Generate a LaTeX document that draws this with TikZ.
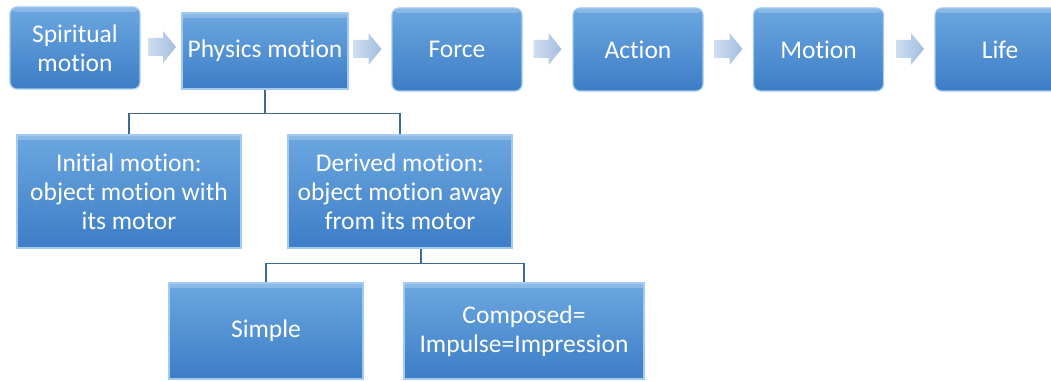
\documentclass[tikz,border=0pt]{standalone}
\usepackage{fontspec}
\setmainfont{Carlito}[Ligatures=NoCommon]
\definecolor{boxtop}{HTML}{6CA7E0}
\definecolor{boxbot}{HTML}{3C7DC6}
\definecolor{boxedge}{HTML}{A3CAF0}
\definecolor{linec}{HTML}{3F6A96}
\definecolor{arrL}{HTML}{D0DEF0}
\definecolor{arrR}{HTML}{A3BDE0}
\begin{document}
\begin{tikzpicture}[x=1pt,y=-1pt,
  box/.style={draw=boxedge, line width=1.2pt, top color=boxtop, bottom color=boxbot,
    text=white, font=\fontsize{25.5}{29}\selectfont, align=center, inner sep=0pt,
    path picture={\fill[white,opacity=0.22] (path picture bounding box.north west) rectangle ([yshift=-5pt]path picture bounding box.north east);}},
  rbox/.style={box, rounded corners=7pt, minimum width=130pt, minimum height=83pt},
  conn/.style={draw=linec, line width=1.6pt},
  flow/.style={left color=arrL, right color=arrR, draw=none}]
\useasboundingbox (0,0) rectangle (1051,382);
\fill[white] (0,0) rectangle (1051,382);
\clip (0,0) rectangle (1051,382);
% top row
\node[rbox, minimum height=82pt] (spi) at (75,48) {Spiritual\\motion};
\node[box, minimum width=166pt, minimum height=76pt] (phy) at (265,51) {Physics motion};
\node[rbox] (for) at (457,49.5) {Force};
\node[rbox] (act) at (638,49.5) {Action};
\node[rbox] (mot) at (818.5,49.5) {Motion};
\node[rbox] (lif) at (1000,49.5) {Life};
% flow arrows
\coordinate (a1) at (162,47);
\coordinate (a2) at (367.5,49);
\coordinate (a3) at (547.5,49);
\coordinate (a4) at (728.5,49);
\coordinate (a5) at (910,49);
\foreach \a in {a1,a2,a3,a4,a5}{
  \shade[flow] (\a) +(-14,-9) -- +(1,-9) -- +(1,-16) -- +(14,0) -- +(1,16) -- +(1,9) -- +(-14,9) -- cycle;
}
% second row
\node[box, minimum width=224pt, minimum height=113pt] (ini) at (129,191.5) {Initial motion:\\object motion with\\its motor};
\node[box, minimum width=224pt, minimum height=113pt] (der) at (400,191.5) {Derived motion:\\object motion away\\from its motor};
% third row
\node[box, minimum width=194pt, minimum height=96pt] (sim) at (266,331) {Simple};
\node[box, minimum width=240pt, minimum height=96pt] (com) at (524,331) {Composed=\\Impulse=Impression};
% connectors
\draw[conn] (phy.south) -- ++(0,24) coordinate (j1);
\draw[conn] (ini.north) |- (j1) -| (der.north);
\draw[conn] ([xshift=21pt]der.south) -- ++(0,15) coordinate (j2);
\draw[conn] (sim.north) |- (j2) -| (com.north);
\end{tikzpicture}
\end{document}
